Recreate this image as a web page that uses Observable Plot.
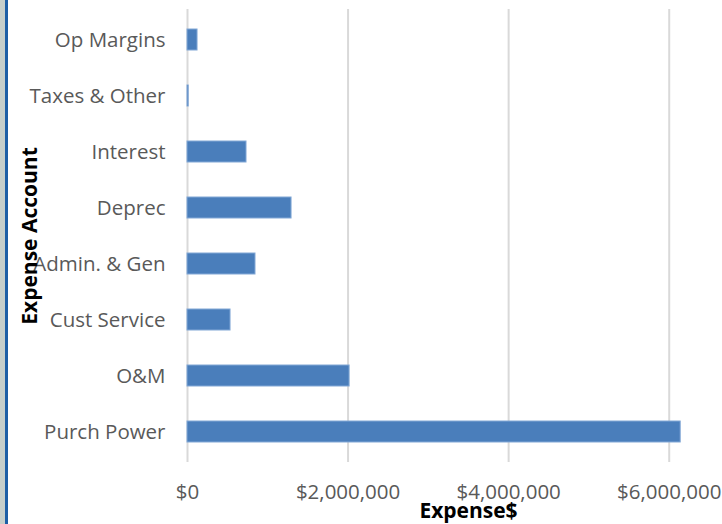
<!DOCTYPE html>
<html>
<head>
<meta charset="utf-8">
<script src="https://cdn.jsdelivr.net/npm/d3@7"></script>
<script src="https://cdn.jsdelivr.net/npm/@observablehq/plot@0.6"></script>
<style>
  html, body { margin: 0; padding: 0; background: #fff; overflow: hidden; }
  #wrap { position: relative; width: 722px; height: 524px; overflow: hidden; background: #fff; }
  #strip { position: absolute; left: 0; top: 0; width: 5px; height: 524px; background: #c6cfcb; }
  #edge { position: absolute; left: 5px; top: 0; width: 3px; height: 524px; background: #1d5fa6; }
  #chart { position: absolute; left: 0; top: 0; width: 760px; }
  #chart svg { max-width: none !important; }
</style>
</head>
<body>
<div id="wrap">
  <div id="chart"></div>
  <div id="strip"></div>
  <div id="edge"></div>
</div>
<script>
const categories = ["Op Margins", "Taxes & Other", "Interest", "Deprec", "Admin. & Gen", "Cust Service", "O&M", "Purch Power"];
const expenses = [125000, 15000, 735000, 1296000, 847000, 536000, 2019000, 6143000];
const xTicks = [0, 2000000, 4000000, 6000000];
const xTitle = "Expense$";
const yTitle = "Expense Account";

const data = categories.map((c, i) => ({account: c, value: expenses[i]}));
const fmt = d => "$" + d3.format(",")(d);
const font = "'Open Sans', sans-serif";

const chart = Plot.plot({
  width: 760,
  height: 524,
  marginLeft: 187,
  marginRight: 11,
  marginTop: 9,
  marginBottom: 62,
  style: {fontFamily: font, fontSize: "20.5px", color: "#595959", background: "transparent", maxWidth: "none"},
  x: {domain: [0, 7000000], ticks: xTicks, tickFormat: fmt, tickSize: 0, tickPadding: 22, label: null},
  y: {domain: categories, paddingInner: 0.63, paddingOuter: 0.315, tickSize: 0, tickPadding: 22, label: null},
  marks: [
    Plot.ruleX(xTicks, {stroke: "#d9d9d9", strokeWidth: 2}),
    Plot.barX(data, {x: "value", y: "account", fill: "#4a7ebb", stroke: "#82a8d6", strokeWidth: 1}),
    Plot.text([xTitle], {frameAnchor: "bottom", dy: 55, text: d => d, fontWeight: "bold", fontSize: 21, fill: "#000"}),
    Plot.text([yTitle], {frameAnchor: "left", dx: -157, rotate: -90, textAnchor: "middle", text: d => d, fontWeight: "bold", fontSize: 21, fill: "#000"})
  ]
});
document.getElementById("chart").appendChild(chart);
</script>
</body>
</html>
